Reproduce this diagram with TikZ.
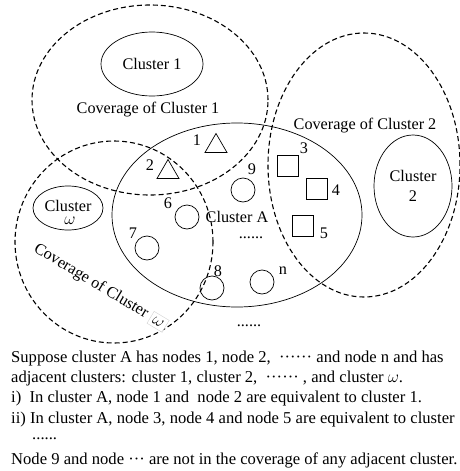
\documentclass[tikz,border=0pt]{standalone}
\usepackage{fontspec}
\setmainfont{Liberation Serif}
\usetikzlibrary{shapes.geometric}
\begin{document}
\begin{tikzpicture}[x=1pt,y=-1pt, font=\fontsize{16.2}{19.5}\selectfont,
  cov/.style={draw, ellipse, line width=1.1pt, dash pattern=on 5pt off 3pt, inner sep=0pt},
  clu/.style={draw, ellipse, line width=0.7pt, inner sep=0pt},
  lbl/.style={inner sep=0pt},
  sq/.style={draw, line width=0.7pt, rectangle, minimum size=21pt, inner sep=0pt},
  cir/.style={draw, line width=0.7pt, circle, minimum size=24pt, inner sep=0pt},
  tri/.style={line width=0.7pt},
  txt/.style={anchor=base west, inner sep=0pt, font=\fontsize{16.6}{19.5}\selectfont}]
\useasboundingbox (0,0) rectangle (459,471);

% coverage areas
\node[cov, minimum width=236pt, minimum height=190pt] (cov1) at (150,100) {};
\node[cov, minimum width=192pt, minimum height=264pt] (cov2) at (364,165) {};
\node[cov, minimum width=198pt, minimum height=202pt] (covw) at (114,242) {};

% clusters
\node[clu, minimum width=250pt, minimum height=184pt] (cA) at (237,215) {};
\node[clu, minimum width=102pt, minimum height=64pt] (c1) at (152,64) {};
\node[clu, minimum width=78pt, minimum height=102pt] (c2) at (413,186) {};
\node[clu, minimum width=70pt, minimum height=44pt] (cw) at (68,208) {};

% cluster labels
\node[lbl] (c1t) at (152,64) {Cluster 1};
\node[lbl, align=center] (c2t) at (413,186) {Cluster\\2};
\node[lbl] (cwt) at (68,206) {Cluster};
\node[lbl] (cwo) at (70,221) {\fontsize{19}{19}\selectfont$\omega$};
\node[lbl] (cAt) at (237,217) {Cluster A};
\node[lbl] (cov1t) at (148,110) {Coverage of Cluster 1};
\node[lbl] (cov2t) at (365,126) {Coverage of Cluster 2};
\node[lbl, rotate=-31, anchor=base west] (covwt) at (33,251) {Coverage of Cluster \fcolorbox{gray!35}{white}{$\omega$}};

% triangles (nodes 1 and 2)
\coordinate (t1) at (216,143);
\coordinate (t2) at (168,169);
\draw[tri] ([shift={(-11,9.5)}]t1) -- ([shift={(11,9.5)}]t1) -- ([shift={(0,-9.5)}]t1) -- cycle;
\draw[tri] ([shift={(-11,9.5)}]t2) -- ([shift={(11,9.5)}]t2) -- ([shift={(0,-9.5)}]t2) -- cycle;
\node[lbl] (l1) at (197,140) {1};
\node[lbl] (l2) at (150,165) {2};

% squares (nodes 3,4,5)
\node[sq] (s3) at (288,166) {};
\node[sq] (s4) at (317,189) {};
\node[sq] (s5) at (303,226) {};
\node[lbl] (l3) at (304,148) {3};
\node[lbl] (l4) at (336,190) {4};
\node[lbl] (l5) at (324,233) {5};

% circles (nodes 9,6,7,8,n)
\node[cir] (n9) at (243,190) {};
\node[cir] (n6) at (187,217) {};
\node[cir] (n7) at (147,248) {};
\node[cir] (n8) at (212,288) {};
\node[cir] (nn) at (262,282) {};
\node[lbl] (l9) at (252,169) {9};
\node[lbl] (l6) at (168,203) {6};
\node[lbl] (l7) at (133,233) {7};
\node[lbl] (l8) at (218,271) {8};
\node[lbl] (ln) at (283,271) {n};

% dots
\node[lbl] (d1) at (251,238) {......};
\node[lbl] (d2) at (249,326) {......};

% explanation text
\node[txt] (p1) at (11,362) {Suppose cluster A has nodes 1, node 2,\ \ ······ and node n and has};
\node[txt] (p2) at (11,382) {adjacent clusters: cluster 1, cluster 2,\ \ ······ , and cluster $\omega$.};
\node[txt] (p3) at (11,402.5) {i)\ \ In cluster A, node 1 and\ \ node 2 are equivalent to cluster 1.};
\node[txt] (p4) at (11,423) {ii) In cluster A, node 3, node 4 and node 5 are equivalent to cluster};
\node[txt] (p5) at (32,439) {......};
\node[txt] (p6) at (11,464) {Node 9 and node ··· are not in the coverage of any adjacent cluster.};
\end{tikzpicture}
\end{document}
